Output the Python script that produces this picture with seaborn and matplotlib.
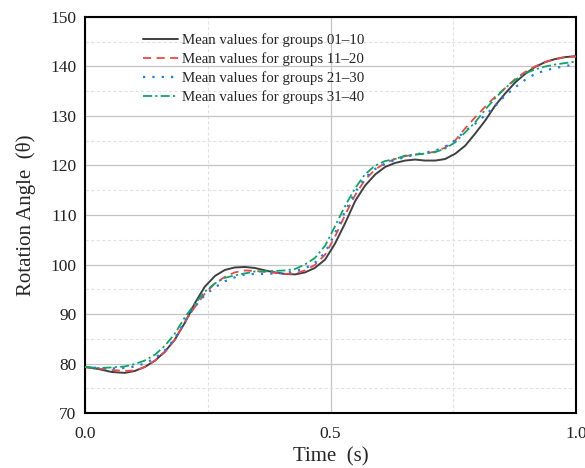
import numpy as np
import pandas as pd
import matplotlib
matplotlib.use("Agg")
import matplotlib.pyplot as plt
import seaborn as sns
from matplotlib.ticker import MultipleLocator, FixedLocator

# ---- data ----
time = [0.0, 0.027, 0.054, 0.081, 0.102, 0.122, 0.143, 0.163, 0.183, 0.204,
        0.224, 0.244, 0.265, 0.285, 0.305, 0.326, 0.346, 0.367, 0.387, 0.407,
        0.428, 0.448, 0.468, 0.489, 0.509, 0.530, 0.550, 0.570, 0.591, 0.611,
        0.631, 0.652, 0.672, 0.692, 0.713, 0.733, 0.754, 0.774, 0.794, 0.815,
        0.835, 0.855, 0.876, 0.896, 0.916, 0.937, 0.957, 0.978, 1.0]

g01_10 = [79.3, 78.9, 78.3, 78.1, 78.5, 79.3, 80.6, 82.4, 84.8, 88.3,
          92.2, 95.5, 97.7, 98.9, 99.4, 99.5, 99.3, 98.8, 98.4, 98.1,
          98.0, 98.4, 99.3, 101.0, 104.2, 108.4, 112.8, 115.9, 118.2, 119.7,
          120.5, 121.0, 121.2, 121.0, 121.0, 121.3, 122.4, 124.0, 126.4, 129.1,
          132.1, 134.5, 136.8, 138.5, 139.9, 140.9, 141.5, 141.9, 142.1]
g11_20 = [79.3, 79.0, 78.7, 78.5, 78.6, 79.3, 80.6, 82.3, 84.8, 88.5,
          91.4, 94.1, 96.2, 97.5, 98.4, 98.8, 98.7, 98.5, 98.3, 98.1,
          98.2, 98.8, 99.9, 102.0, 105.6, 110.1, 114.0, 117.1, 119.2, 120.5,
          121.3, 121.9, 122.2, 122.4, 122.8, 123.6, 125.1, 127.5, 129.7, 131.9,
          133.9, 135.6, 137.5, 138.9, 140.0, 140.9, 141.5, 141.9, 142.0]
g21_30 = [79.3, 79.1, 79.0, 79.1, 79.4, 80.0, 81.1, 82.7, 85.0, 88.6,
          91.5, 93.8, 95.4, 96.6, 97.4, 98.0, 98.1, 98.1, 98.2, 98.3,
          98.7, 99.2, 100.3, 102.4, 106.3, 110.8, 114.6, 117.5, 119.3, 120.3,
          121.1, 121.7, 122.2, 122.6, 123.0, 123.8, 125.1, 127.0, 128.4, 130.2,
          132.0, 134.1, 135.8, 137.3, 138.5, 139.2, 139.7, 140.1, 140.4]
g31_40 = [79.3, 79.1, 79.2, 79.4, 79.9, 80.6, 81.8, 83.6, 86.0, 89.4,
          92.1, 94.5, 96.2, 97.3, 97.8, 98.2, 98.6, 98.6, 98.7, 98.8,
          99.1, 100.0, 101.3, 103.8, 107.7, 111.9, 115.4, 118.2, 120.0, 120.9,
          121.3, 122.0, 122.2, 122.4, 122.7, 123.4, 124.7, 126.7, 128.7, 131.3,
          133.6, 135.6, 137.3, 138.6, 139.4, 140.0, 140.4, 140.7, 141.0]

labels = ["Mean values for groups 01\u201310", "Mean values for groups 11\u201320",
          "Mean values for groups 21\u201330", "Mean values for groups 31\u201340"]
x_ticks = [0.0, 0.5, 1.0]
x_ticklabels = ["0.0", "0.5", "1.0"]
y_ticks = [70, 80, 90, 100, 110, 120, 130, 140, 150]

colors = ["#404040", "#F04848", "#1E7BF0", "#0DA566"]
styles = ["-", (0, (4.5, 3)), (0, (1, 3.2)), (0, (5, 1.8, 1.2, 1.8))]
widths = [1.4, 1.3, 1.6, 1.3]

series = [g01_10, g11_20, g21_30, g31_40]

sns.set_style("white")
plt.rcParams["font.family"] = ["Liberation Serif", "DejaVu Serif"]

fig = plt.figure(figsize=(5.85, 4.68), dpi=100)
ax = fig.add_axes([0.145, 0.1175, 0.84, 0.8462])

for vals, lab, c, ls, lw in zip(series, labels, colors, styles, widths):
    df = pd.DataFrame({"t": time, "v": vals})
    sns.lineplot(data=df, x="t", y="v", ax=ax, color=c, linestyle=ls,
                 linewidth=lw, label=lab, zorder=3)

ax.set_xlim(0, 1.0)
ax.set_ylim(70, 150)
ax.xaxis.set_major_locator(FixedLocator(x_ticks))
ax.set_xticklabels(x_ticklabels)
ax.xaxis.set_minor_locator(FixedLocator([0.25, 0.75]))
ax.yaxis.set_major_locator(FixedLocator(y_ticks))
ax.yaxis.set_minor_locator(MultipleLocator(5))

ax.grid(which="major", color="#c4c4c4", linewidth=0.9, linestyle="-", zorder=0)
ax.grid(which="minor", color="#e2e2e2", linewidth=0.8, linestyle=(0, (3, 2)), zorder=0)
ax.set_axisbelow(True)

ax.tick_params(axis="both", which="major", direction="in", length=5, width=1.2,
               labelsize=12.5, pad=6, top=False, right=False, colors="black")
ax.tick_params(axis="both", which="minor", direction="in", length=3, width=1.0,
               top=False, right=False)
ax.tick_params(axis="x", which="major", pad=9)
for lab in ax.get_xticklabels() + ax.get_yticklabels():
    lab.set_color("#222222")

for sp in ax.spines.values():
    sp.set_visible(True)
    sp.set_color("black")
    sp.set_linewidth(1.5)

ax.set_xlabel("Time  (s)", fontsize=15, labelpad=4)
ax.set_ylabel("Rotation Angle  (\u03b8)", fontsize=15, labelpad=10)

leg = ax.legend(loc="upper left", bbox_to_anchor=(0.106, 0.974), frameon=False,
                fontsize=10.7, handlelength=2.35, handletextpad=0.27,
                labelspacing=0.36, borderaxespad=0)

fig.savefig("out.png", dpi=100)
